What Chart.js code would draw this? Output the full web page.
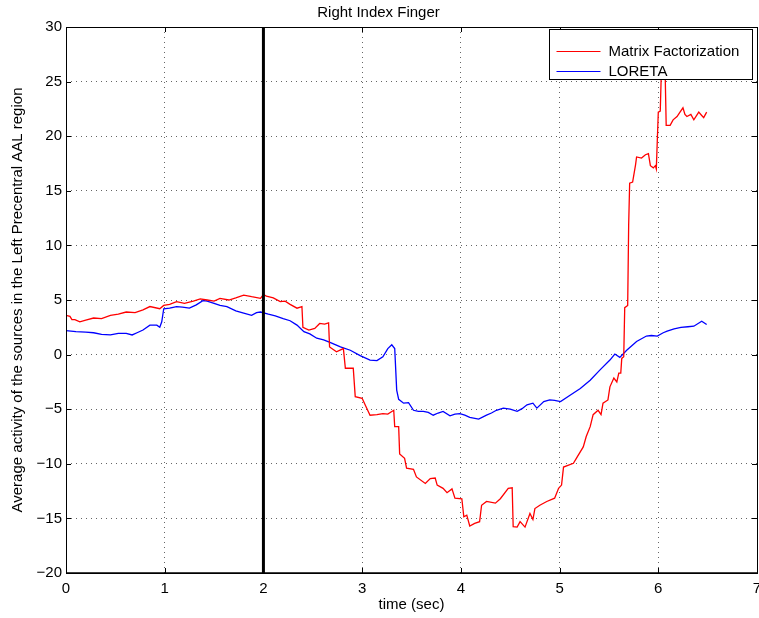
<!DOCTYPE html>
<html>
<head>
<meta charset="utf-8">
<script src="https://cdn.jsdelivr.net/npm/chart.js@4.4.1/dist/chart.umd.min.js"></script>
<style>
  html, body { margin: 0; padding: 0; background: #ffffff; }
  canvas { display: block; }
</style>
</head>
<body>
<canvas id="chart" width="759" height="618"></canvas>
<script>
// Matrix Factorization estimate (time in seconds, activity)
const mfTime = [
  0.00, 0.04, 0.06, 0.09, 0.14, 0.20, 0.28, 0.36, 0.45, 0.53, 0.61, 0.70, 0.78, 0.85, 0.95, 0.99,
  1.05, 1.12, 1.20, 1.29, 1.36, 1.43, 1.50, 1.56, 1.65, 1.72, 1.80, 1.88, 1.97, 2.00, 2.03, 2.10,
  2.17, 2.22, 2.27, 2.34, 2.39, 2.40, 2.46, 2.52, 2.57, 2.62, 2.66, 2.67, 2.74, 2.81, 2.83, 2.91,
  2.93, 3.00, 3.03, 3.08, 3.15, 3.21, 3.26, 3.32, 3.33, 3.37, 3.38, 3.43, 3.45, 3.52, 3.55, 3.64,
  3.69, 3.74, 3.76, 3.82, 3.86, 3.91, 3.94, 4.01, 4.03, 4.06, 4.09, 4.14, 4.19, 4.21, 4.26, 4.35,
  4.40, 4.48, 4.52, 4.53, 4.57, 4.60, 4.65, 4.70, 4.73, 4.75, 4.80, 4.87, 4.95, 4.99, 5.02, 5.04,
  5.14, 5.17, 5.24, 5.27, 5.31, 5.34, 5.39, 5.42, 5.44, 5.49, 5.51, 5.55, 5.58, 5.60, 5.62, 5.63,
  5.65, 5.66, 5.69, 5.70, 5.71, 5.74, 5.77, 5.78, 5.83, 5.87, 5.90, 5.92, 5.95, 5.97, 5.98, 6.00,
  6.02, 6.03, 6.07, 6.08, 6.12, 6.15, 6.19, 6.22, 6.25, 6.27, 6.29, 6.33, 6.36, 6.41, 6.44, 6.46,
  6.49
];
const mfValue = [
  3.6, 3.5, 3.2, 3.2, 3.0, 3.15, 3.35, 3.3, 3.6, 3.7, 3.9, 3.85, 4.1, 4.4, 4.2, 4.5,
  4.6, 4.85, 4.7, 4.9, 5.1, 5.0, 4.9, 5.15, 5.0, 5.2, 5.45, 5.3, 5.15, 5.5, 5.35, 5.2,
  4.85, 4.9, 4.6, 4.25, 4.4, 2.5, 2.25, 2.4, 2.85, 2.8, 2.9, 0.7, 0.25, 0.55, -1.25, -1.25,
  -3.85, -4.0, -4.6, -5.55, -5.5, -5.4, -5.45, -5.1, -6.6, -6.6, -9.1, -9.5, -10.4, -10.5, -11.2, -11.8,
  -11.35, -11.3, -11.95, -12.25, -12.65, -12.3, -13.15, -13.2, -14.85, -14.7, -15.7, -15.45, -15.3, -13.8, -13.45, -13.6,
  -13.2, -12.25, -12.2, -15.75, -15.8, -15.3, -15.8, -14.55, -15.1, -14.1, -13.8, -13.45, -13.15, -12.25, -11.95, -10.3,
  -9.95, -9.5, -8.45, -7.5, -6.6, -5.5, -5.1, -5.5, -4.45, -4.15, -2.95, -2.15, -2.5, -1.7, -1.7, -0.35,
  -0.2, 4.3, 4.5, 11.9, 15.7, 15.8, 17.4, 18.1, 18.0, 18.3, 18.4, 17.3, 17.1, 17.3, 17.0, 22.2,
  22.3, 25.6, 25.6, 21.0, 21.0, 21.5, 21.8, 22.2, 22.6, 22.0, 21.8, 22.0, 21.5, 22.2, 21.9, 21.7,
  22.2
];

// LORETA estimate (time in seconds, activity)
const loretaTime = [
  0.00, 0.10, 0.20, 0.28, 0.36, 0.45, 0.53, 0.61, 0.67, 0.72, 0.78, 0.85, 0.92, 0.95, 0.97, 0.99,
  1.05, 1.12, 1.18, 1.25, 1.32, 1.39, 1.43, 1.50, 1.56, 1.63, 1.72, 1.80, 1.88, 1.93, 1.97, 2.05,
  2.12, 2.20, 2.27, 2.34, 2.41, 2.47, 2.54, 2.61, 2.68, 2.78, 2.88, 2.98, 3.08, 3.15, 3.21, 3.26,
  3.30, 3.33, 3.35, 3.37, 3.42, 3.47, 3.52, 3.57, 3.62, 3.67, 3.72, 3.77, 3.82, 3.89, 3.94, 3.99,
  4.04, 4.09, 4.18, 4.26, 4.31, 4.36, 4.43, 4.50, 4.57, 4.62, 4.67, 4.73, 4.77, 4.84, 4.90, 4.95,
  5.01, 5.11, 5.21, 5.31, 5.41, 5.51, 5.56, 5.61, 5.68, 5.78, 5.88, 5.93, 5.99, 6.05, 6.09, 6.16,
  6.23, 6.30, 6.36, 6.44, 6.49
];
const loretaValue = [
  2.2, 2.1, 2.05, 2.0, 1.85, 1.8, 1.95, 1.95, 1.8, 2.0, 2.25, 2.7, 2.7, 2.5, 3.0, 4.2,
  4.25, 4.4, 4.35, 4.25, 4.55, 4.95, 4.9, 4.7, 4.5, 4.4, 4.0, 3.8, 3.6, 3.85, 3.9, 3.7,
  3.55, 3.3, 3.1, 2.7, 2.1, 1.9, 1.5, 1.35, 1.1, 0.7, 0.4, -0.1, -0.5, -0.55, -0.2, 0.55,
  0.9, 0.55, -3.25, -4.1, -4.45, -4.4, -5.1, -5.2, -5.2, -5.3, -5.55, -5.35, -5.2, -5.6, -5.45, -5.4,
  -5.55, -5.75, -5.9, -5.55, -5.35, -5.1, -4.9, -5.0, -5.2, -4.95, -4.6, -4.45, -4.9, -4.3, -4.15, -4.2,
  -4.3, -3.7, -3.1, -2.35, -1.4, -0.5, 0.05, -0.25, 0.4, 1.2, 1.7, 1.75, 1.7, 2.0, 2.15, 2.35,
  2.5, 2.55, 2.6, 3.05, 2.75
];

// Stimulus onset marker
const onsetTime = 2;

// Axis ticks
const xTicks = [0, 1, 2, 3, 4, 5, 6, 7];
const yTicks = [-20, -15, -10, -5, 0, 5, 10, 15, 20, 25, 30];

const FONT = '"Liberation Sans", Arial, Helvetica, sans-serif';
Chart.defaults.font.family = FONT;
Chart.defaults.font.size = 15;
Chart.defaults.color = '#000000';

const toPoints = (ts, vs) => ts.map((t, i) => ({ x: t, y: vs[i] }));

// Axes box, inward tick marks and the boxed legend
const frameAndLegend = {
  id: 'frameAndLegend',
  afterDraw(chart) {
    const { ctx, chartArea: a, scales } = chart;
    ctx.save();
    ctx.strokeStyle = '#000000';
    ctx.lineWidth = 1;
    ctx.setLineDash([]);
    ctx.beginPath();
    const tickLen = 5;
    xTicks.forEach(v => {
      const px = Math.round(scales.x.getPixelForValue(v)) + 0.5;
      ctx.moveTo(px, a.bottom); ctx.lineTo(px, a.bottom - tickLen);
      ctx.moveTo(px, a.top); ctx.lineTo(px, a.top + tickLen);
    });
    yTicks.forEach(v => {
      const py = Math.round(scales.y.getPixelForValue(v)) + 0.5;
      ctx.moveTo(a.left, py); ctx.lineTo(a.left + tickLen, py);
      ctx.moveTo(a.right, py); ctx.lineTo(a.right - tickLen, py);
    });
    ctx.stroke();
    ctx.lineWidth = 1;
    ctx.strokeRect(Math.round(a.left) + 0.5, Math.round(a.top) + 0.5,
                   Math.round(a.right - a.left), Math.round(a.bottom - a.top));
    ctx.lineWidth = 1.6;
    ctx.beginPath();
    ctx.moveTo(a.left, a.bottom); ctx.lineTo(a.right, a.bottom);
    ctx.stroke();

    // legend
    const entries = chart.data.datasets.filter(d => d.inLegend);
    const w = 203, h = 50;
    const lx = Math.round(a.right - 5 - w) + 0.5;
    const ly = Math.round(a.top + 2) + 0.5;
    ctx.fillStyle = '#ffffff';
    ctx.fillRect(lx, ly, w, h);
    ctx.lineWidth = 1;
    ctx.strokeStyle = '#000000';
    ctx.strokeRect(lx, ly, w, h);
    ctx.font = '15px ' + FONT;
    ctx.textBaseline = 'middle';
    ctx.textAlign = 'left';
    entries.forEach((d, i) => {
      const y = Math.round(ly + 21 + i * 20) + 0.5;
      ctx.strokeStyle = d.borderColor;
      ctx.lineWidth = 1;
      ctx.beginPath();
      ctx.moveTo(lx + 7, y); ctx.lineTo(lx + 51, y);
      ctx.stroke();
      ctx.fillStyle = '#000000';
      ctx.fillText(d.label, lx + 59, y);
    });
    ctx.restore();
  }
};

new Chart(document.getElementById('chart'), {
  type: 'line',
  data: {
    datasets: [
      {
        label: 'onset',
        data: [{ x: onsetTime, y: yTicks[0] }, { x: onsetTime, y: yTicks[yTicks.length - 1] }],
        borderColor: '#000000',
        borderWidth: 3,
        pointRadius: 0,
        inLegend: false
      },
      {
        label: 'Matrix Factorization',
        data: toPoints(mfTime, mfValue),
        borderColor: '#ff0000',
        borderWidth: 1.3,
        pointRadius: 0,
        tension: 0,
        inLegend: true
      },
      {
        label: 'LORETA',
        data: toPoints(loretaTime, loretaValue),
        borderColor: '#0000ff',
        borderWidth: 1.3,
        pointRadius: 0,
        tension: 0,
        inLegend: true
      }
    ]
  },
  options: {
    responsive: false,
    animation: false,
    devicePixelRatio: 1,
    layout: { padding: { left: 0, right: 2, top: 0, bottom: 0 } },
    plugins: {
      legend: { display: false },
      tooltip: { enabled: false },
      title: {
        display: true,
        text: 'Right Index Finger',
        color: '#000000',
        font: { size: 15, weight: 'normal', family: FONT },
        padding: { top: 4, bottom: 5 }
      }
    },
    scales: {
      x: {
        type: 'linear',
        min: xTicks[0],
        max: xTicks[xTicks.length - 1],
        afterBuildTicks(scale) { scale.ticks = xTicks.map(v => ({ value: v })); },
        afterFit(scale) {
          scale.height = 45;
          scale.paddingLeft = 0;
          scale.paddingRight = 0;
        },
        ticks: { padding: 7, color: '#000000', maxRotation: 0, autoSkip: false },
        grid: { color: 'rgba(0,0,0,0.6)', lineWidth: 1, drawTicks: false },
        border: { display: false, dash: [1, 4] },
        title: {
          display: true,
          text: 'time (sec)',
          color: '#000000',
          font: { size: 15, family: FONT },
          padding: { top: 0, bottom: 4 }
        }
      },
      y: {
        type: 'linear',
        min: yTicks[0],
        max: yTicks[yTicks.length - 1],
        afterBuildTicks(scale) { scale.ticks = yTicks.map(v => ({ value: v })); },
        afterFit(scale) {
          scale.width = 66;
          scale.paddingTop = 0;
          scale.paddingBottom = 0;
        },
        ticks: {
          padding: 4,
          color: '#000000',
          autoSkip: false,
          callback: v => (v < 0 ? '\u2212' + Math.abs(v) : String(v))
        },
        grid: { color: 'rgba(0,0,0,0.6)', lineWidth: 1, drawTicks: false },
        border: { display: false, dash: [1, 4] },
        title: {
          display: true,
          text: 'Average activity of the sources in the Left Precentral AAL region',
          color: '#000000',
          font: { size: 15, family: FONT },
          padding: { top: 9, bottom: 0 }
        }
      }
    }
  },
  plugins: [frameAndLegend]
});
</script>
</body>
</html>
